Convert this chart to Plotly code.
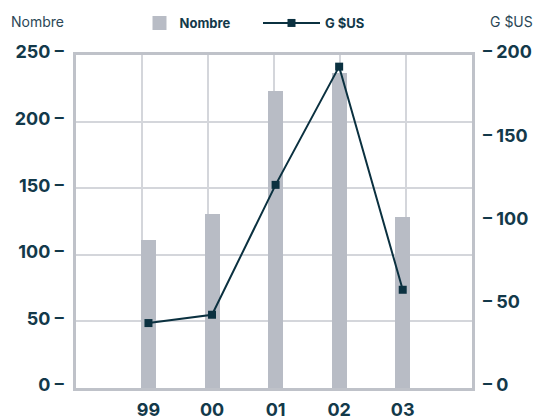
import plotly.graph_objects as go

# Years (two-digit labels) and the two series
years = ["99", "00", "01", "02", "03"]
nombre = [110, 130, 222, 236, 128]        # left axis: count
g_usd = [39, 44, 122, 193, 59]            # right axis: billions of US$

left_ticks = [0, 50, 100, 150, 200, 250]
right_ticks = [0, 50, 100, 150, 200]

TEXT = "#13394a"
BAR = "#b8bcc5"
LINE = "#0b3140"
FRAME = "#bfc2c9"
GRID = "#d4d6db"
FONT = "Inter, Liberation Sans, Arial, sans-serif"

fig = go.Figure()

fig.add_trace(go.Bar(
    x=years, y=nombre, name="Nombre",
    marker=dict(color=BAR, line=dict(color=BAR, width=2)),
    width=0.205, xaxis="x", yaxis="y", legend="legend", showlegend=True,
))

fig.add_trace(go.Scatter(
    x=years, y=g_usd, name="G $US", mode="lines+markers",
    line=dict(color=LINE, width=2),
    marker=dict(symbol="square", size=8, color=LINE),
    xaxis="x", yaxis="y2", legend="legend2", showlegend=True,
))

# empty trace that carries the linear axis used for the vertical grid
fig.add_trace(go.Scatter(
    x=[], y=[], xaxis="x2", yaxis="y", showlegend=False, hoverinfo="skip",
))

tick_font = dict(family=FONT, size=18, color=TEXT, weight="bold")

fig.update_layout(
    width=539, height=419,
    margin=dict(l=76, r=67, t=55, b=31),
    paper_bgcolor="white", plot_bgcolor="white",
    template="none",
    showlegend=True,
    bargap=0,
    xaxis=dict(
        type="category", range=[-1.14, 5.09],
        showgrid=False, zeroline=False,
        showline=True, mirror=True, linecolor=FRAME, linewidth=2.5,
        ticks="", tickfont=tick_font, ticklabelstandoff=4,
    ),
    xaxis2=dict(
        overlaying="x", anchor="y", range=[0, 6], dtick=1,
        showgrid=True, gridcolor=GRID, gridwidth=1.5,
        showticklabels=False, ticks="", zeroline=False, showline=False,
    ),
    yaxis=dict(
        range=[0, 250], tickvals=left_ticks,
        ticktext=[f"{v} \u2013" for v in left_ticks],
        showgrid=True, gridcolor=GRID, gridwidth=1.5, zeroline=False,
        showline=True, mirror=True, linecolor=FRAME, linewidth=2.5,
        ticks="", tickfont=tick_font, ticklabelstandoff=6, ticklabelshift=-3,
    ),
    yaxis2=dict(
        overlaying="y", side="right", anchor="x",
        range=[0, 200], tickvals=right_ticks,
        ticktext=[f"\u2013 {v}" for v in right_ticks],
        showgrid=False, zeroline=False, showline=False,
        ticks="", tickfont=tick_font, ticklabelstandoff=10, ticklabelshift=-3,
    ),
    legend=dict(
        orientation="h", xref="container", yref="container",
        x=139.5 / 539, xanchor="left", y=1 - 8 / 419, yanchor="top",
        bgcolor="rgba(0,0,0,0)", borderwidth=0,
        font=dict(family=FONT, size=13, color=TEXT, weight="bold"),
    ),
    legend2=dict(
        orientation="h", xref="container", yref="container",
        x=258 / 539, xanchor="left", y=1 - 8 / 419, yanchor="top",
        bgcolor="rgba(0,0,0,0)", borderwidth=0, itemwidth=57,
        font=dict(family=FONT, size=13, color=TEXT, weight="bold"),
    ),
    annotations=[
        dict(text="Nombre", xref="paper", yref="paper",
             x=(9 - 76) / 396, y=(388 - 22) / 333,
             xanchor="left", yanchor="middle", showarrow=False,
             font=dict(family=FONT, size=14, color="#2b4756")),
        dict(text="G $US", xref="paper", yref="paper",
             x=(535 - 76) / 396, y=(388 - 22) / 333,
             xanchor="right", yanchor="middle", showarrow=False,
             font=dict(family=FONT, size=14, color="#2b4756")),
    ],
)

fig.write_html("out.html")
